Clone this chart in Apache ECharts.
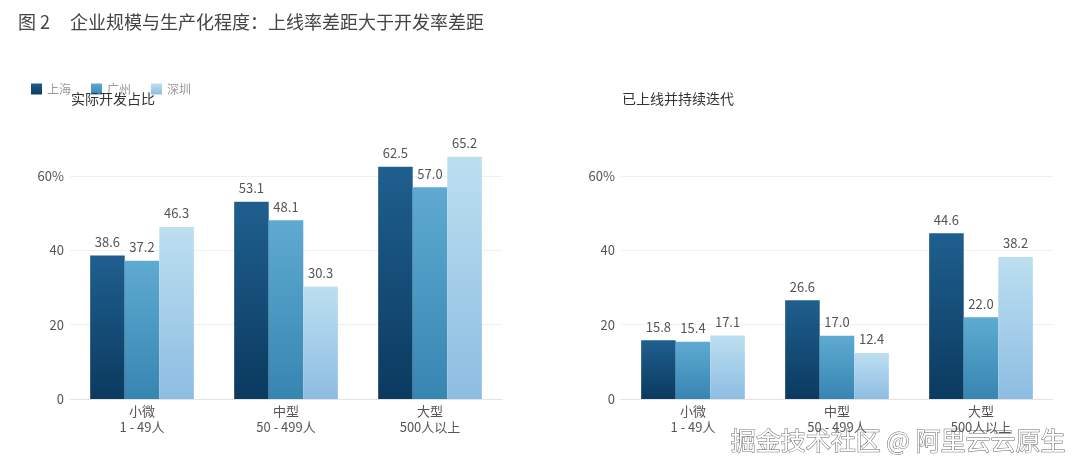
<!DOCTYPE html>
<html>
<head>
<meta charset="utf-8">
<script src="https://cdn.jsdelivr.net/npm/echarts@6/dist/echarts.min.js"></script>
<style>
  html, body { margin: 0; padding: 0; background: #fff; }
  #chart { width: 1080px; height: 470px; }
</style>
</head>
<body>
<div id="chart"></div>
<script>
// categories and values
const categories = ['小微\n1 - 49人', '中型\n50 - 499人', '大型\n500人以上'];
const cities = ['上海', '广州', '深圳'];

// 实际开发占比
const devShanghai = [38.6, 53.1, 62.5];
const devGuangzhou = [37.2, 48.1, 57.0];
const devShenzhen = [46.3, 30.3, 65.2];

// 已上线并持续迭代
const liveShanghai = [15.8, 26.6, 44.6];
const liveGuangzhou = [15.4, 17.0, 22.0];
const liveShenzhen = [17.1, 12.4, 38.2];

const yTicks = [0, 20, 40, 60];

const FONT = "'Noto Sans CJK SC', 'Noto Sans', sans-serif";

const grad = (top, bottom) => new echarts.graphic.LinearGradient(0, 0, 0, 1, [
  { offset: 0, color: top },
  { offset: 1, color: bottom }
]);

const palette = [
  { legend: '#1c4d74', top: '#1f5f8f', bottom: '#0b3a5f' },
  { legend: '#3c8dbb', top: '#5eaad2', bottom: '#3785b1' },
  { legend: '#a9d2ea', top: '#bcdff0', bottom: '#8dbde2' }
];

const chart = echarts.init(document.getElementById('chart'));

const grids = [
  { left: 70, width: 432, top: 176, height: 223 },
  { left: 621, width: 432, top: 176, height: 223 }
];

const xAxisFor = (idx) => ({
  type: 'category',
  gridIndex: idx,
  data: categories,
  axisTick: { show: false },
  axisLine: { lineStyle: { color: '#e3e3e3', width: 1 } },
  axisLabel: { color: '#555', fontSize: 13, lineHeight: 16, margin: 4, fontFamily: FONT }
});

const yAxisFor = (idx) => ({
  type: 'value',
  gridIndex: idx,
  min: 0,
  max: 60,
  interval: 20,
  axisLine: { show: false },
  axisTick: { show: false },
  splitLine: { lineStyle: { color: '#f0f0f0', width: 1 } },
  axisLabel: {
    color: '#555',
    fontSize: 13,
    margin: 6,
    fontFamily: FONT,
    formatter: (v) => (v === yTicks[yTicks.length - 1] ? v + '%' : String(v))
  }
});

const barSeries = (name, data, idx, colorIdx) => ({
  name,
  type: 'bar',
  xAxisIndex: idx,
  yAxisIndex: idx,
  data,
  barWidth: '24%',
  barGap: '0%',
  clip: false,
  itemStyle: { color: grad(palette[colorIdx].top, palette[colorIdx].bottom) },
  label: {
    show: true,
    position: 'top',
    distance: 7,
    color: '#555',
    fontSize: 13,
    fontFamily: FONT,
    formatter: (p) => p.value.toFixed(1)
  }
});

const titleStyle = (size, color) => ({ color, fontSize: size, fontWeight: 'normal', fontFamily: FONT });

chart.setOption({
  animation: false,
  textStyle: { fontFamily: FONT },
  color: palette.map(p => p.legend),
  legend: {
    left: 26,
    top: 78,
    itemWidth: 11,
    itemHeight: 11,
    itemGap: 20,
    icon: 'rect',
    data: cities,
    textStyle: { color: '#999', fontSize: 12, fontFamily: FONT }
  },
  title: [
    { text: '图 2', left: 18, top: 13, padding: 0, textStyle: titleStyle(18, '#444') },
    { text: '企业规模与生产化程度：上线率差距大于开发率差距', left: 70, top: 13, padding: 0, textStyle: titleStyle(18, '#444') },
    { text: '实际开发占比', left: 71, top: 92, padding: 0, textStyle: titleStyle(14, '#333') },
    { text: '已上线并持续迭代', left: 622, top: 92, padding: 0, textStyle: titleStyle(14, '#333') }
  ],
  grid: grids,
  xAxis: [xAxisFor(0), xAxisFor(1)],
  yAxis: [yAxisFor(0), yAxisFor(1)],
  series: [
    barSeries(cities[0], devShanghai, 0, 0),
    barSeries(cities[1], devGuangzhou, 0, 1),
    barSeries(cities[2], devShenzhen, 0, 2),
    barSeries(cities[0], liveShanghai, 1, 0),
    barSeries(cities[1], liveGuangzhou, 1, 1),
    barSeries(cities[2], liveShenzhen, 1, 2)
  ],
  graphic: [{
    type: 'text',
    right: 14,
    top: 427,
    style: {
      text: '掘金技术社区 @ 阿里云云原生',
      fill: '#fff',
      stroke: '#666',
      lineWidth: 1,
      font: "25px 'Noto Sans CJK SC', sans-serif",
      shadowColor: 'rgba(0,0,0,0.45)',
      shadowBlur: 2,
      shadowOffsetX: 1,
      shadowOffsetY: 1
    }
  }]
});
</script>
</body>
</html>
